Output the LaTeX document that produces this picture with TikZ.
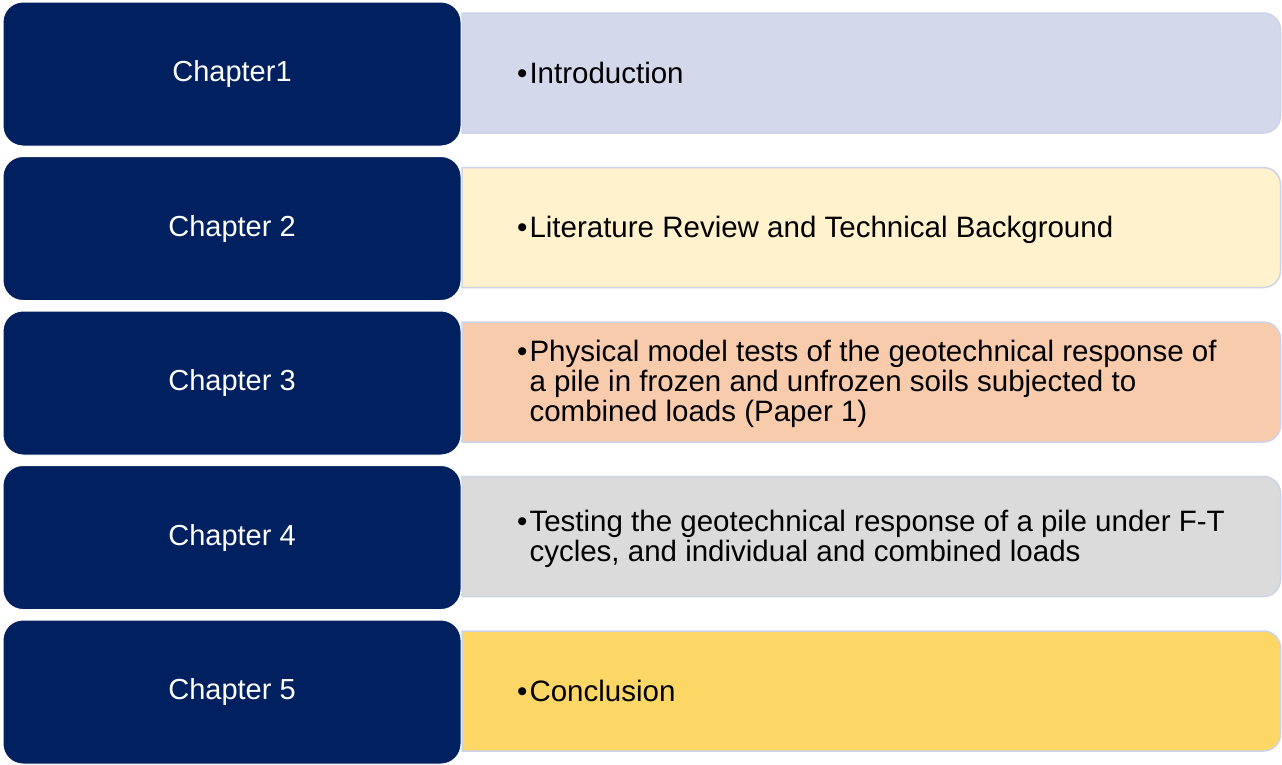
\documentclass[tikz,border=0pt]{standalone}
\usepackage{fontspec}
\setmainfont{Liberation Sans}
\definecolor{navy}{HTML}{002060}
\definecolor{edge}{HTML}{CDD3E9}
\definecolor{fillA}{HTML}{D3D8EB}
\definecolor{fillB}{HTML}{FFF2CC}
\definecolor{fillC}{HTML}{F8CBAD}
\definecolor{fillD}{HTML}{DBDBDB}
\definecolor{fillE}{HTML}{FDD766}
\tikzset{
  chapbox/.style={draw=white, line width=1pt, fill=navy, rounded corners=20pt,
    minimum width=458pt, minimum height=144pt, inner sep=0pt,
    text=white, font=\fontsize{29}{30}\selectfont},
  panel/.style={draw=edge, line width=1.5pt},
  bullettext/.style={anchor=west, inner sep=0pt, font=\fontsize{29.5}{29}\selectfont, align=left}
}
\newcommand{\bulletlines}[1]{\begin{tabular}{@{}l@{\hspace{2pt}}l@{}}#1\end{tabular}}
\begin{document}
\begin{tikzpicture}[x=1pt,y=-1pt]
\useasboundingbox (0,0) rectangle (1282,764);
% coloured panels, rounded on the right side only
\foreach \i/\c in {0/fillA,1/fillB,2/fillC,3/fillD,4/fillE}{
  \pgfmathsetmacro{\t}{13+154.5*\i}
  \pgfmathsetmacro{\b}{133+154.5*\i}
  \draw[panel, fill=\c] (462,\t) [rounded corners=17pt]-- (1280.5,\t) -- (1280.5,\b) [sharp corners]-- (462,\b) -- cycle;
}
% chapter boxes
\node[chapbox] (c1) at (232,74) {Chapter1};
\node[chapbox] (c2) at (232,228.5) {Chapter 2};
\node[chapbox] (c3) at (232,383) {Chapter 3};
\node[chapbox] (c4) at (232,537.5) {Chapter 4};
\node[chapbox] (c5) at (232,692) {Chapter 5};
% panel texts
\node[bullettext] (t1) at (517,77) {\bulletlines{•&Introduction}};
\node[bullettext] (t2) at (517,231.5) {\bulletlines{•&Literature Review and Technical Background}};
\node[bullettext] (t3) at (517,385.5) {\bulletlines{•&Physical model tests of the geotechnical response of\\ & a pile in frozen and unfrozen soils subjected to\\ & combined loads (Paper 1)}};
\node[bullettext] (t4) at (517,540.5) {\bulletlines{•&Testing the geotechnical response of a pile under F-T\\ & cycles, and individual and combined loads}};
\node[bullettext] (t5) at (517,695) {\bulletlines{•&Conclusion}};
\end{tikzpicture}
\end{document}
